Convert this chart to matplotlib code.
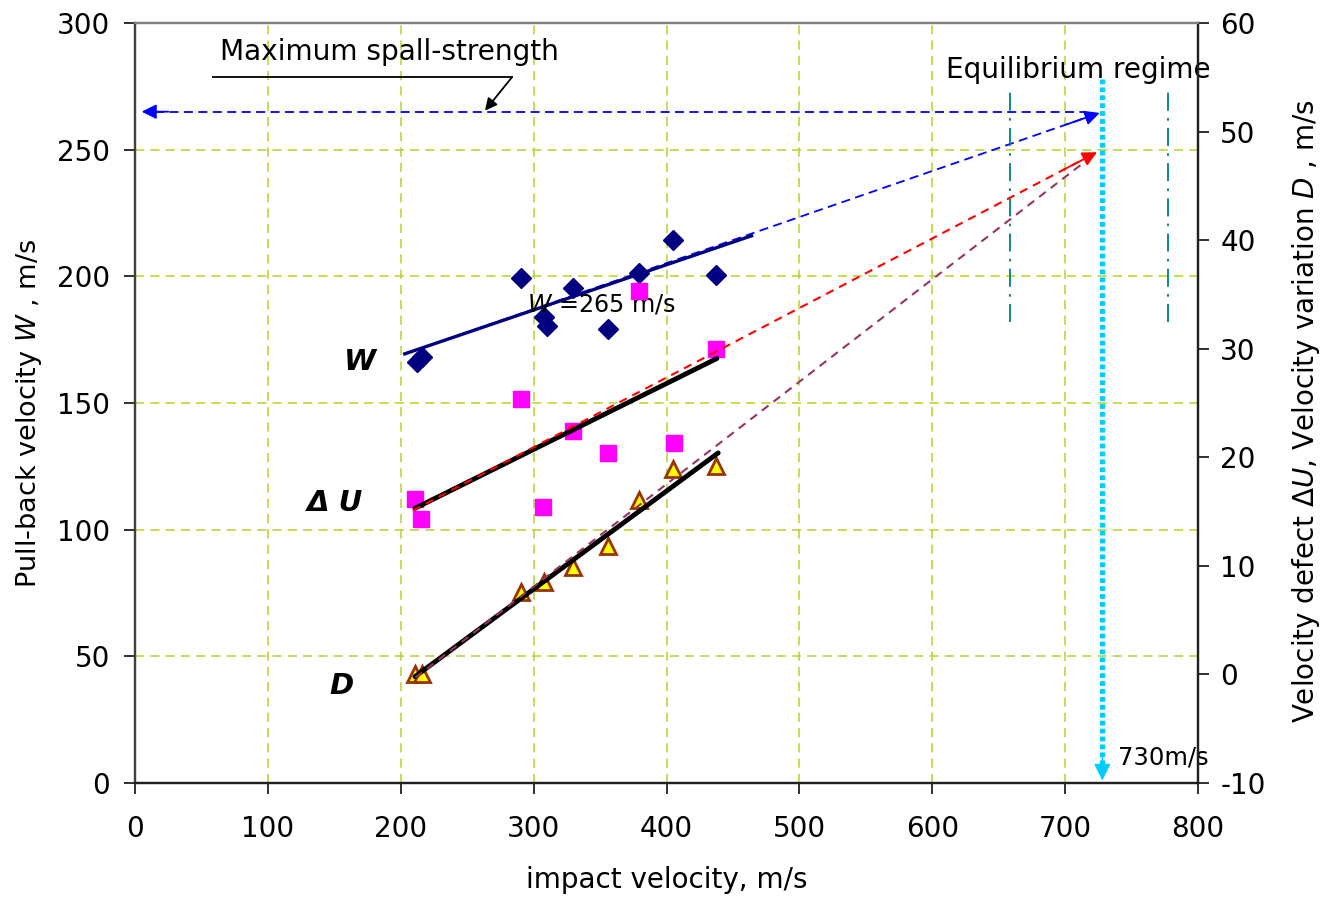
import matplotlib
matplotlib.use("Agg")
import matplotlib.pyplot as plt

plt.rcParams['font.family'] = ['DejaVu Sans']
plt.rcParams['mathtext.fontset'] = 'dejavusans'
plt.rcParams['axes.unicode_minus'] = False

# ---- data ----
impact_W = [212, 215.7, 290.4, 307.8, 309.8, 329.3, 356.1, 379.5, 405, 437.6]
W = [166, 168.3, 199.2, 184.1, 180.4, 195.3, 179.4, 201.2, 214.4, 200.5]

impact_dU = [210.7, 215, 290.4, 307.2, 329.3, 356.3, 379.5, 405.6, 437.6]
dU = [16.2, 14.3, 25.4, 15.4, 22.4, 20.4, 35.3, 21.3, 30.0]

impact_D = [210.7, 215.7, 290.4, 307.8, 329.3, 356.1, 379.5, 405, 437.6]
D = [0, 0, 7.6, 8.5, 9.9, 11.8, 16.1, 18.9, 19.2]

# fitted lines and extrapolations (end points)
W_fit_x = [203, 464]
W_fit_y = [169.4, 216.0]
W_trend_x = [203, 726]
W_trend_y = [169.4, 264.5]
dU_fit_x = [210.7, 437.9]
dU_fit_y = [15.3, 29.1]
dU_trend_x = [209, 724]
dU_trend_y = [15.1, 48.1]
D_fit_x = [210.7, 438.9]
D_fit_y = [-0.2, 20.4]
D_trend_x = [211, 721]
D_trend_y = [-0.3, 47.8]

spall_W = 265
spall_from_x = 5
v_equil = 728
equil_top = 278
equil_bottom = 1
regime_x = [658.4, 777.3]
regime_y = [182, 273.6]

x_ticks = [0, 100, 200, 300, 400, 500, 600, 700, 800]
yl_ticks = [0, 50, 100, 150, 200, 250, 300]
yr_ticks = [-10, 0, 10, 20, 30, 40, 50, 60]

# ---- figure ----
fig = plt.figure(figsize=(13.31, 9.02), dpi=100)
ax = fig.add_axes([135/1331, 1-783/902, (1198-135)/1331, (783-23)/902])
ax2 = ax.twinx()

grid_c = '#b0d42a'
ax.set_xlim(0, 800)
ax.set_ylim(0, 300)
ax2.set_ylim(-10, 60)
ax.set_xticks(x_ticks)
ax.set_yticks(yl_ticks)
ax2.set_yticks(yr_ticks)
for gx in x_ticks[1:-1]:
    ax.axvline(gx, color=grid_c, lw=1.1, ls=(0, (6, 4)), zorder=0)
for gy in yl_ticks[1:-1]:
    ax.axhline(gy, color=grid_c, lw=1.1, ls=(0, (6, 4)), zorder=0)

for a in (ax, ax2):
    a.spines['top'].set_color('#808080')
    a.spines['left'].set_color('#404040')
    a.spines['bottom'].set_color('#202020')
    a.spines['right'].set_color('#202020')
    for s in a.spines.values():
        s.set_linewidth(1.6)
ax.tick_params(axis='both', direction='out', length=8, width=1.3, labelsize=20, colors='#202020', labelcolor='black')
ax.tick_params(axis='x', pad=15)
ax.tick_params(axis='y', pad=10)
ax2.tick_params(axis='y', direction='out', length=8, width=1.3, labelsize=20, colors='#202020', labelcolor='black', pad=8)

ax.set_xlabel('impact velocity, m/s', fontsize=20)
ax.xaxis.set_label_coords(0.5, -0.109)
ax.set_ylabel(r'Pull-back velocity $\mathit{W}$ , m/s', fontsize=19.5)
ax.yaxis.set_label_coords(-0.086, 0.487)
ax2.set_ylabel(r'Velocity defect $\mathit{ΔU}$, Velocity variation $\mathit{D}$ , m/s', fontsize=20)
ax2.yaxis.set_label_coords(1.087, 0.49)

# ---- W series (left axis) ----
ax.plot(W_trend_x, W_trend_y, color='#0000ff', lw=1.3, ls=(0, (5, 3)), zorder=3)
ax.plot(W_fit_x, W_fit_y, color='#000080', lw=2.4, zorder=3)
ax.plot(impact_W, W, ls='none', marker='D', ms=10.5, color='#000080', zorder=4)
kW = (W_trend_y[1] - W_trend_y[0]) / (W_trend_x[1] - W_trend_x[0])
ax.annotate('', xy=(W_trend_x[1], W_trend_y[1]),
            xytext=(W_trend_x[1] - 25, W_trend_y[1] - kW * 25),
            arrowprops=dict(arrowstyle='-|>', color='#0000ff', lw=1.3, mutation_scale=22, shrinkA=0, shrinkB=0), zorder=5)

# horizontal spall-strength double arrow
ax.plot([spall_from_x + 10, W_trend_x[1] - 10], [spall_W, spall_W], color='#0000ff', lw=1.3, ls=(0, (5, 3)), zorder=3)
ax.annotate('', xy=(spall_from_x, spall_W), xytext=(spall_from_x + 20, spall_W),
            arrowprops=dict(arrowstyle='-|>', color='#0000ff', lw=1.3, mutation_scale=22, shrinkA=0, shrinkB=0), zorder=5)

# ---- ΔU and D series (right axis) ----
ax2.plot(dU_trend_x, dU_trend_y, color='#ff0000', lw=1.5, ls=(0, (4, 3)), zorder=3)
ax2.plot(D_trend_x, D_trend_y, color='#993366', lw=1.5, ls=(0, (4, 3)), zorder=3)
ax2.plot(dU_fit_x, dU_fit_y, color='black', lw=3.5, zorder=2, solid_capstyle='round')
ax2.plot(D_fit_x, D_fit_y, color='black', lw=3.5, zorder=2, solid_capstyle='round')
ax2.plot(impact_dU, dU, ls='none', marker='s', ms=11, color='#ff00ff', zorder=1)
ax2.plot(impact_D, D, ls='none', marker='^', ms=12, markerfacecolor='#ffff00',
         markeredgecolor='#993300', markeredgewidth=2, zorder=1)
k = (dU_trend_y[1] - dU_trend_y[0]) / (dU_trend_x[1] - dU_trend_x[0])
ax2.annotate('', xy=(dU_trend_x[1], dU_trend_y[1]),
             xytext=(dU_trend_x[1] - 25, dU_trend_y[1] - k * 25),
             arrowprops=dict(arrowstyle='-|>', color='#ff0000', lw=1.3, mutation_scale=22, shrinkA=0, shrinkB=0), zorder=5)

# ---- equilibrium regime ----
ax.plot([v_equil, v_equil], [equil_top, equil_bottom + 6], color='#00ccff', lw=3.8,
        ls=(0, (0.9, 0.6)), dash_capstyle='butt', zorder=4)
ax.annotate('', xy=(v_equil, equil_bottom), xytext=(v_equil, equil_bottom + 10),
            arrowprops=dict(arrowstyle='-|>', color='#00ccff', lw=1, mutation_scale=26, shrinkA=0, shrinkB=0), zorder=5)
for rx in regime_x:
    ax.plot([rx, rx], regime_y, color='#008080', lw=1.3, ls=(0, (10, 4, 1.5, 4)), zorder=3)

# ---- annotations ----
ax.text(64, 288.6, 'Maximum spall-strength', fontsize=20.2, va='center')
ax.plot([58.7, 283.7], [278.6, 278.6], color='black', lw=1.3)
ax.annotate('', xy=(263.4, 265.4), xytext=(283.7, 278.6),
            arrowprops=dict(arrowstyle='-|>', color='black', lw=1.3, mutation_scale=18, shrinkA=0, shrinkB=0))
ax.text(610, 281.5, 'Equilibrium regime', fontsize=20.2, va='center', clip_on=False, zorder=6)
ax.text(295, 188.7, r'$\mathit{W}$ =265 m/s', fontsize=17.2, va='center', zorder=6)
ax.text(739.7, 9.9, '730m/s', fontsize=17.5, va='center', clip_on=False, zorder=6)
lab = dict(fontsize=21, fontweight='bold', fontstyle='italic', ha='center', va='center')
ax.text(169.3, 166.2, 'W', **lab)
ax.text(150.5, 110.5, 'Δ U', **lab)
ax.text(155, 38.3, 'D', **lab)

fig.savefig('out.png', dpi=100)
